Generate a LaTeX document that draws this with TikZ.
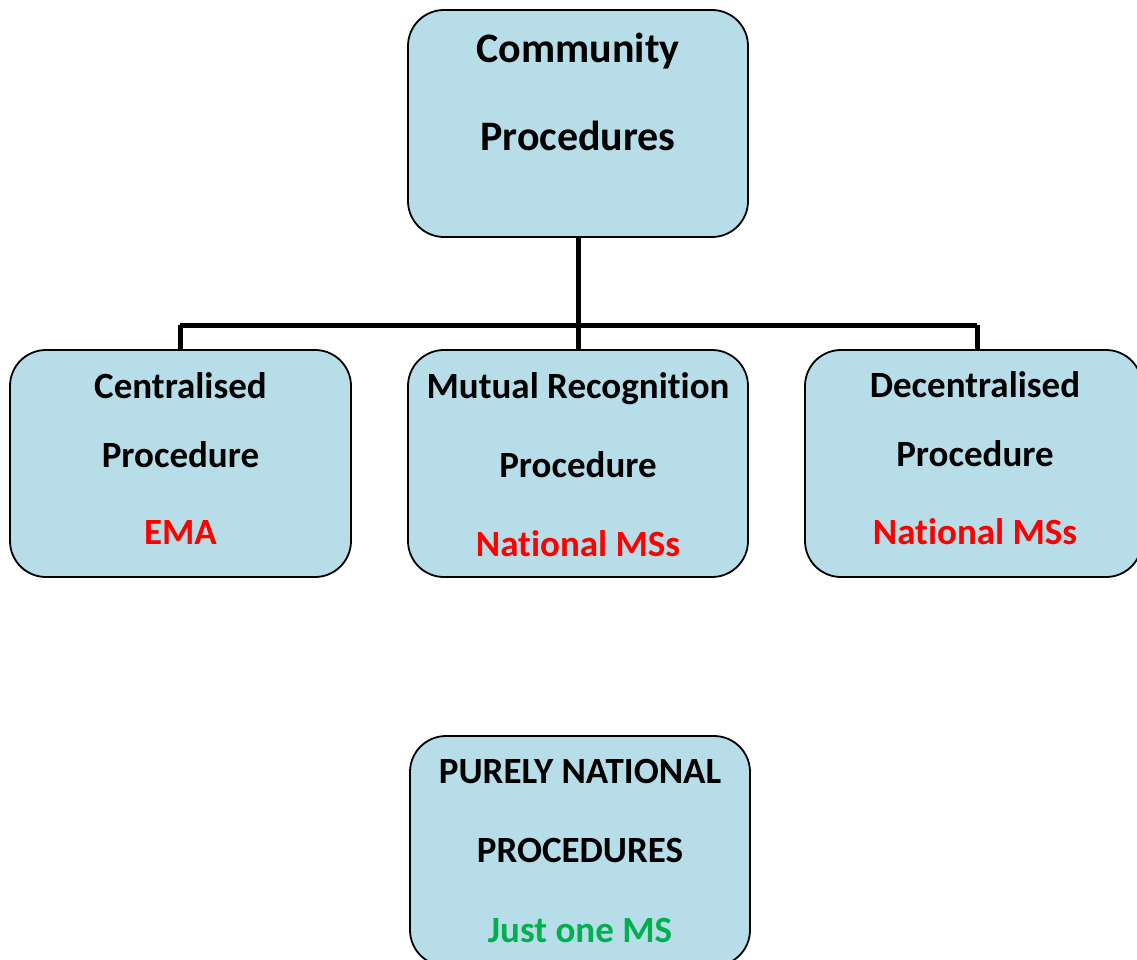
\documentclass[tikz,border=0pt]{standalone}
\usepackage{fontspec}
\setmainfont[Ligatures=CommonOff]{Carlito}
\definecolor{boxfill}{HTML}{B7DEE8}
\definecolor{msred}{HTML}{FF0000}
\definecolor{msgreen}{HTML}{00B050}
\begin{document}
\begin{tikzpicture}[x=1pt,y=-1pt,
  procbox/.style={draw=black, line width=1.8pt, fill=boxfill, rounded corners=36pt},
  boxtext/.style={inner sep=0pt, anchor=base, font=\bfseries\fontsize{37}{44}\selectfont},
  toptext/.style={inner sep=0pt, anchor=base, font=\bfseries\fontsize{42}{50}\selectfont},
  link/.style={line width=5pt}]
\useasboundingbox (0,0) rectangle (1137,960);
\clip (0,0) rectangle (1137,960);

% junction points of the tree
\coordinate (hub) at (578,325);
\coordinate (hl) at (180,325);
\coordinate (hr) at (977,325);

% boxes
\node[procbox, minimum width=340pt, minimum height=227pt] (top) at (578,123.5) {};
\node[procbox, minimum width=341pt, minimum height=227pt] (left) at (180.5,463.5) {};
\node[procbox, minimum width=340pt, minimum height=227pt] (mid) at (578,463.5) {};
\node[procbox, minimum width=337pt, minimum height=227pt] (right) at (973.5,463.5) {};
\node[procbox, minimum width=340pt, minimum height=230pt] (pure) at (580,851) {};

% connectors
\draw[link] (top.south) -- (hub);
\draw[link] (hl) -- (hr);
\draw[link] (hl) -- (hl |- left.north);
\draw[link] (hub) -- (mid.north);
\draw[link] (hr) -- (hr |- right.north);

% texts (placed on their baselines)
\node[toptext] (t1) at (578,63) {Community};
\node[toptext] (t2) at (578,151) {Procedures};

\node[boxtext] (l1) at (180.5,398) {Centralised};
\node[boxtext] (l2) at (180.5,467) {Procedure};
\node[boxtext, text=msred] (l3) at (180.5,544) {EMA};

\node[boxtext] (m1) at (578,398) {Mutual Recognition};
\node[boxtext] (m2) at (578,477) {Procedure};
\node[boxtext, text=msred] (m3) at (578,556) {National MSs};

\node[boxtext] (r1) at (975,397) {Decentralised};
\node[boxtext] (r2) at (975,466) {Procedure};
\node[boxtext, text=msred] (r3) at (975,544) {National MSs};

\node[boxtext] (p1) at (580,783) {PURELY NATIONAL};
\node[boxtext] (p2) at (580,862) {PROCEDURES};
\node[boxtext, text=msgreen] (p3) at (580,942) {Just one MS};
\end{tikzpicture}
\end{document}
